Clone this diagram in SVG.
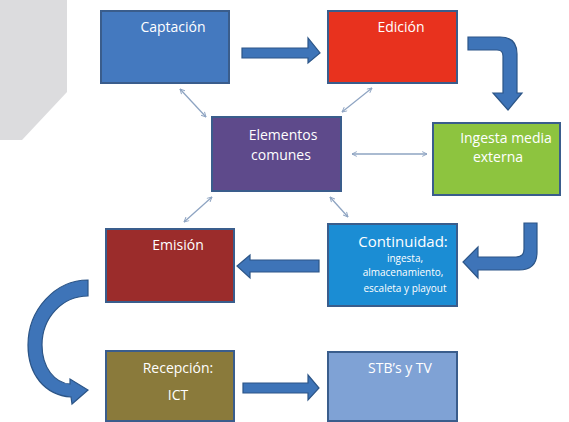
<svg xmlns="http://www.w3.org/2000/svg" width="569" height="422" viewBox="0 0 569 422">
<defs>
<style>
.box{stroke:#3a5d8c;stroke-width:2}
.t{font-family:"Open Sans","Liberation Sans",sans-serif;fill:#ffffff;text-anchor:middle}
.big{font-size:14px}
.sm{font-size:10px}
.blk{fill:#3e74b8;stroke:#2c5587;stroke-width:1.2}
.thin{stroke:#8ea4c2;stroke-width:1.3;fill:none;marker-start:url(#ah);marker-end:url(#ah)}
</style>
<marker id="ah" viewBox="0 0 10 10" refX="9" refY="5" markerWidth="6" markerHeight="6" orient="auto-start-reverse" markerUnits="userSpaceOnUse">
<path d="M1,1 L9,5 L1,9" fill="none" stroke="#8ea4c2" stroke-width="1.6"/>
</marker>
</defs>
<rect width="569" height="422" fill="#ffffff"/>
<polygon points="0,0 67,0 67,92 22,140 0,140" fill="#dcdcde"/>

<g id="connectors">
<polygon class="blk" points="242,48 308,48 308,38 320,53 308,63 308,58 242,58"/>
<path class="blk" d="M468,37 L500,37 Q517,37 517,54 L517,93 L522,93 L508,110 L493,93 L503,93 L503,56 Q503,50 497,50 L468,50 Z"/>
<path class="blk" d="M524,223 L537,223 L537,252 Q537,270 519,270 L478,270 L478,278 L463,262 L478,247 L478,257 L516,257 Q524,257 524,249 Z"/>
<polygon class="blk" points="319,260 250,260 250,255 237,266 250,278 250,272 319,272"/>
<path class="blk" d="M88,280 C55,280 28,310 28,345 C28,375 45,395 71,397 L72,404 L88,390 L70,379 L70,384 C55,383 42,368 42,345 C42,318 62,296 88,296 Z"/>
<polygon class="blk" points="243,383 308,383 308,375 319,388 308,400 308,393 243,393"/>
<line class="thin" x1="180" y1="89" x2="206" y2="117"/>
<line class="thin" x1="372" y1="88" x2="342" y2="112"/>
<line class="thin" x1="352" y1="154" x2="427" y2="154"/>
<line class="thin" x1="330" y1="197" x2="348" y2="217"/>
<line class="thin" x1="212" y1="197" x2="184" y2="222"/>
</g>

<g id="captacion">
<rect class="box" x="101" y="11" width="128" height="72" fill="#4479bf"/>
<text class="t big" x="173" y="32">Captación</text>
</g>
<g id="edicion">
<rect class="box" x="328" y="11" width="129" height="72" fill="#e8321e"/>
<text class="t big" x="401" y="32">Edición</text>
</g>
<g id="elementos">
<rect class="box" x="212" y="117" width="129" height="74" fill="#5e4a8b"/>
<text class="t big" x="283" y="140">Elementos</text>
<text class="t big" x="281" y="160">comunes</text>
</g>
<g id="ingesta">
<rect class="box" x="433" y="123" width="127" height="72" fill="#8dc43f"/>
<text class="t big" x="506" y="143">Ingesta media</text>
<text class="t big" x="498" y="162">externa</text>
</g>
<g id="emision">
<rect class="box" x="106" y="229" width="128" height="73" fill="#9b2c2b"/>
<text class="t big" x="178" y="250">Emisión</text>
</g>
<g id="continuidad">
<rect class="box" x="328" y="224" width="129" height="82" fill="#1b8dd4"/>
<text class="t" style="font-size:15px" x="403" y="247">Continuidad:</text>
<text class="t sm" x="405" y="262">ingesta,</text>
<text class="t sm" x="403" y="276">almacenamiento,</text>
<text class="t sm" x="405" y="292">escaleta y playout</text>
</g>
<g id="recepcion">
<rect class="box" x="106" y="351" width="128" height="70" fill="#8a7a3b"/>
<text class="t big" x="178" y="373">Recepción:</text>
<text class="t big" x="178" y="400">ICT</text>
</g>
<g id="stb">
<rect class="box" x="328" y="352" width="129" height="69" fill="#7fa2d5"/>
<text class="t big" x="400" y="373">STB’s y TV</text>
</g>
</svg>
